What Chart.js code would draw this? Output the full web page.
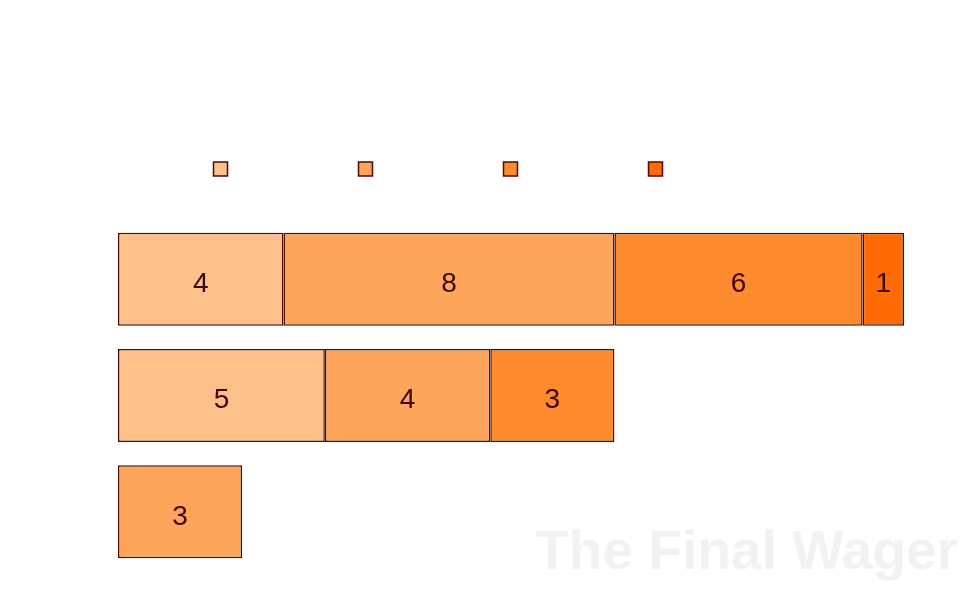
<!DOCTYPE html>
<html>
<head>
<meta charset="utf-8">
<script src="https://cdn.jsdelivr.net/npm/chart.js@4/dist/chart.umd.min.js"></script>
<style>
  html, body { margin: 0; padding: 0; background: #ffffff; }
  #wrap { width: 973px; height: 598px; position: relative; }
</style>
</head>
<body>
<div id="wrap"><canvas id="grafico"></canvas></div>
<script>
// categorias (linhas) e séries empilhadas
const categorias = ['A', 'B', 'C'];
const serie1 = [4, 5, null];
const serie2 = [8, 4, 3];
const serie3 = [6, 3, null];
const serie4 = [1, null, null];
const nomesSeries = ['1', '2', '3', '4'];
const cores = ['#fec08a', '#fda55a', '#fd8a2c', '#ff6a05'];
const corBorda = '#4e0b06';
const marcaDagua = 'The Final Wager';

// rótulos numéricos no centro de cada barra
const rotulosBarras = {
    id: 'rotulosBarras',
    afterDatasetsDraw(chart) {
        const ctx = chart.ctx;
        ctx.save();
        ctx.font = '28px "Liberation Sans", Arial, sans-serif';
        ctx.fillStyle = '#3a0905';
        ctx.textAlign = 'center';
        ctx.textBaseline = 'middle';
        chart.data.datasets.forEach((ds, i) => {
            const meta = chart.getDatasetMeta(i);
            meta.data.forEach((bar, j) => {
                const v = ds.data[j];
                if (v === null || v === undefined) return;
                const p = bar.getProps(['x', 'y', 'base'], true);
                ctx.fillText(String(v), (p.x + p.base) / 2, p.y + 5);
            });
        });
        ctx.restore();
    }
};

// marca d'água no canto inferior direito
const marca = {
    id: 'marca',
    beforeDraw(chart) {
        const ctx = chart.ctx;
        ctx.save();
        ctx.font = 'bold 55px "Liberation Sans", Arial, sans-serif';
        ctx.fillStyle = '#f2f2f2';
        ctx.textAlign = 'right';
        ctx.textBaseline = 'alphabetic';
        ctx.fillText(marcaDagua, 958, 569);
        ctx.restore();
    }
};

const ctx = document.getElementById('grafico');
new Chart(ctx.getContext('2d'), {
    type: 'bar',
    data: {
        labels: categorias,
        datasets: [serie1, serie2, serie3, serie4].map((d, i) => ({
            label: nomesSeries[i],
            data: d,
            backgroundColor: cores[i],
            borderColor: corBorda,
            borderWidth: 1.5,
            borderSkipped: false,
            categoryPercentage: 1,
            barPercentage: 0.8
        }))
    },
    options: {
        indexAxis: 'y',
        responsive: true,
        maintainAspectRatio: false,
        animation: false,
        layout: {
            padding: { top: 38, right: 69, bottom: 28, left: 0 }
        },
        plugins: {
            legend: {
                display: true,
                position: 'top',
                labels: {
                    boxWidth: 14,
                    boxHeight: 14,
                    padding: 103,
                    font: { size: 56 },
                    generateLabels: function(chart) {
                        return chart.data.datasets.map((ds, i) => ({
                            text: '',
                            fillStyle: ds.backgroundColor,
                            strokeStyle: corBorda,
                            lineWidth: 1.5,
                            datasetIndex: i
                        }));
                    }
                }
            },
            tooltip: { enabled: false }
        },
        scales: {
            x: {
                position: 'top',
                stacked: true,
                min: 0,
                max: 19,
                ticks: { display: false },
                grid: { display: false },
                border: { display: false },
                afterFit: function(scale) { scale.height = 14; }
            },
            y: {
                stacked: true,
                ticks: { display: false },
                grid: { display: false },
                border: { display: false },
                afterFit: function(scale) { scale.width = 118; }
            }
        }
    },
    plugins: [marca, rotulosBarras]
});
</script>
</body>
</html>
